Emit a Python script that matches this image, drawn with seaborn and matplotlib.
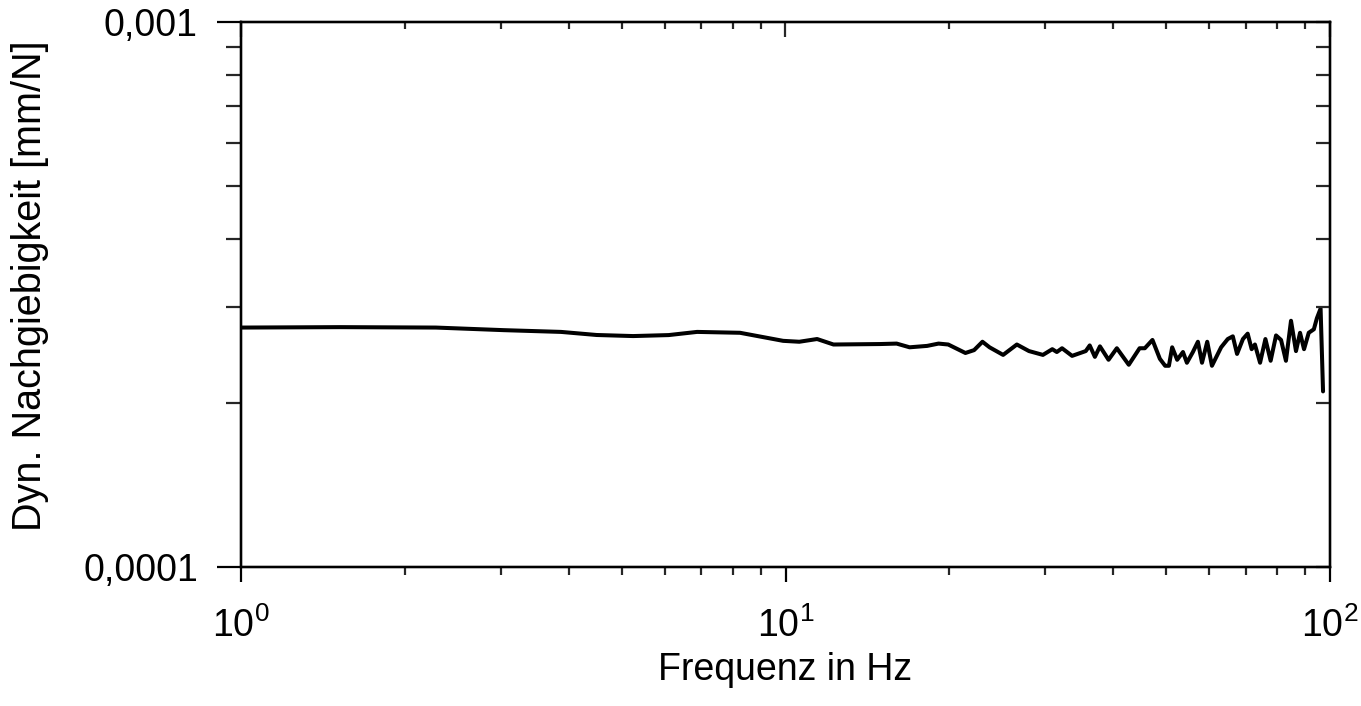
import matplotlib
matplotlib.use("Agg")
import matplotlib.pyplot as plt
import matplotlib.ticker as mticker
import seaborn as sns
import pandas as pd

# ---- data ----
freq_hz = [
    1.0, 1.52, 2.28, 3.04, 3.87, 4.50, 5.25, 6.10, 6.88, 8.25,
    9.90, 10.6, 11.43, 12.25, 14.9, 16.0, 16.9, 18.2, 19.1, 19.9,
    21.4, 22.2, 23.0, 23.7, 25.1, 26.6, 28.0, 29.7, 30.9, 31.5,
    32.2, 33.6, 35.6, 36.2, 37.0, 37.8, 39.2, 40.6, 42.7, 44.7,
    45.7, 47.2, 48.7, 49.8, 50.6, 51.3, 52.4, 53.7, 54.6, 56.0,
    57.2, 58.2, 59.5, 60.7, 63.1, 64.9, 66.3, 67.5, 69.2, 70.6,
    71.8, 72.8, 74.4, 76.1, 77.8, 79.6, 81.3, 83.0, 84.8, 86.6,
    88.1, 89.6, 91.4, 93.4, 94.6, 96.1, 97.1,
]
# compliance in units of 1e-4 mm/N
compliance_e4 = [
    2.75, 2.755, 2.75, 2.72, 2.70, 2.665, 2.653, 2.664, 2.70, 2.69,
    2.60, 2.59, 2.62, 2.56, 2.565, 2.57, 2.53, 2.545, 2.57, 2.56,
    2.47, 2.50, 2.59, 2.53, 2.45, 2.56, 2.49, 2.45, 2.51, 2.48,
    2.52, 2.44, 2.49, 2.55, 2.43, 2.54, 2.40, 2.52, 2.35, 2.52,
    2.52, 2.61, 2.41, 2.34, 2.34, 2.53, 2.40, 2.48, 2.37, 2.48,
    2.59, 2.37, 2.59, 2.34, 2.53, 2.62, 2.65, 2.46, 2.62, 2.68,
    2.51, 2.56, 2.37, 2.62, 2.39, 2.66, 2.61, 2.39, 2.83, 2.49,
    2.69, 2.51, 2.69, 2.73, 2.86, 2.98, 2.10,
]
x_limits = [1, 100]
y_limits = [1e-4, 1e-3]
y_tick_values = [1e-4, 1e-3]
y_tick_labels = ["0,0001", "0,001"]
x_label = "Frequenz in Hz"
y_label = "Dyn. Nachgiebigkeit [mm/N]"

df = pd.DataFrame({"f": freq_hz, "c": [v * 1e-4 for v in compliance_e4]})

sns.set_theme(style="ticks")
plt.rcParams["font.family"] = ["Liberation Sans", "DejaVu Sans"]
plt.rcParams["mathtext.fontset"] = "custom"
plt.rcParams["mathtext.rm"] = "Liberation Sans"
plt.rcParams["mathtext.it"] = "Liberation Sans:italic"
plt.rcParams["mathtext.bf"] = "Liberation Sans:bold"

FS = 27
LW = 1.6
fig = plt.figure(figsize=(13.61, 7.06), dpi=100)
ax = fig.add_axes([241 / 1361, 1 - 567 / 706, (1330 - 241) / 1361, (567 - 22) / 706])

sns.lineplot(data=df, x="f", y="c", color="black", linewidth=2.9, ax=ax,
             estimator=None, sort=False)

ax.set_xscale("log")
ax.set_yscale("log")
ax.set_xlim(*x_limits)
ax.set_ylim(*y_limits)

ax.yaxis.set_major_locator(mticker.FixedLocator(y_tick_values))
ax.yaxis.set_major_formatter(mticker.FixedFormatter(y_tick_labels))
ax.yaxis.set_minor_locator(mticker.LogLocator(base=10, subs=range(2, 10)))
ax.yaxis.set_minor_formatter(mticker.NullFormatter())
ax.xaxis.set_major_locator(mticker.LogLocator(base=10))
ax.xaxis.set_major_formatter(mticker.LogFormatterSciNotation())
ax.xaxis.set_minor_locator(mticker.LogLocator(base=10, subs=range(2, 10)))
ax.xaxis.set_minor_formatter(mticker.NullFormatter())

for s in ax.spines.values():
    s.set_linewidth(LW)
    s.set_color("black")

ax.tick_params(axis="x", which="major", direction="out", length=11, width=LW,
               labelsize=FS, pad=18, colors="black", top=False)
ax.tick_params(axis="x", which="minor", direction="out", length=6, width=LW, top=False)
ax.tick_params(axis="y", which="major", direction="out", length=17, width=LW,
               labelsize=FS, pad=14, colors="black", right=False)
ax.tick_params(axis="y", which="minor", direction="out", length=11, width=LW, right=False)

# top axis: inward ticks
axt = ax.twiny()
axt.set_xscale("log")
axt.set_xlim(*x_limits)
axt.xaxis.set_minor_locator(mticker.LogLocator(base=10, subs=range(2, 10)))
axt.tick_params(axis="x", which="major", direction="in", length=11, width=LW,
                labeltop=False, top=True)
axt.tick_params(axis="x", which="minor", direction="in", length=5, width=LW)
axt.xaxis.set_major_formatter(mticker.NullFormatter())
axt.xaxis.set_minor_formatter(mticker.NullFormatter())

# right axis: inward ticks
axr = ax.twinx()
axr.set_yscale("log")
axr.set_ylim(*y_limits)
axr.yaxis.set_major_locator(mticker.FixedLocator(y_tick_values))
axr.yaxis.set_minor_locator(mticker.LogLocator(base=10, subs=range(2, 10)))
axr.tick_params(axis="y", which="major", direction="in", length=10, width=LW,
                labelright=False)
axr.tick_params(axis="y", which="minor", direction="in", length=10, width=LW)
axr.yaxis.set_major_formatter(mticker.NullFormatter())
axr.yaxis.set_minor_formatter(mticker.NullFormatter())
for a in (axt, axr):
    for s in a.spines.values():
        s.set_linewidth(LW)
        s.set_color("black")

ax.set_xlabel(x_label, fontsize=FS, labelpad=5, color="black")
ax.set_ylabel(y_label, fontsize=28.5, color="black")
ax.yaxis.set_label_coords((49 - 241) / 1089, 0.517)

fig.savefig("out.png", dpi=100)
